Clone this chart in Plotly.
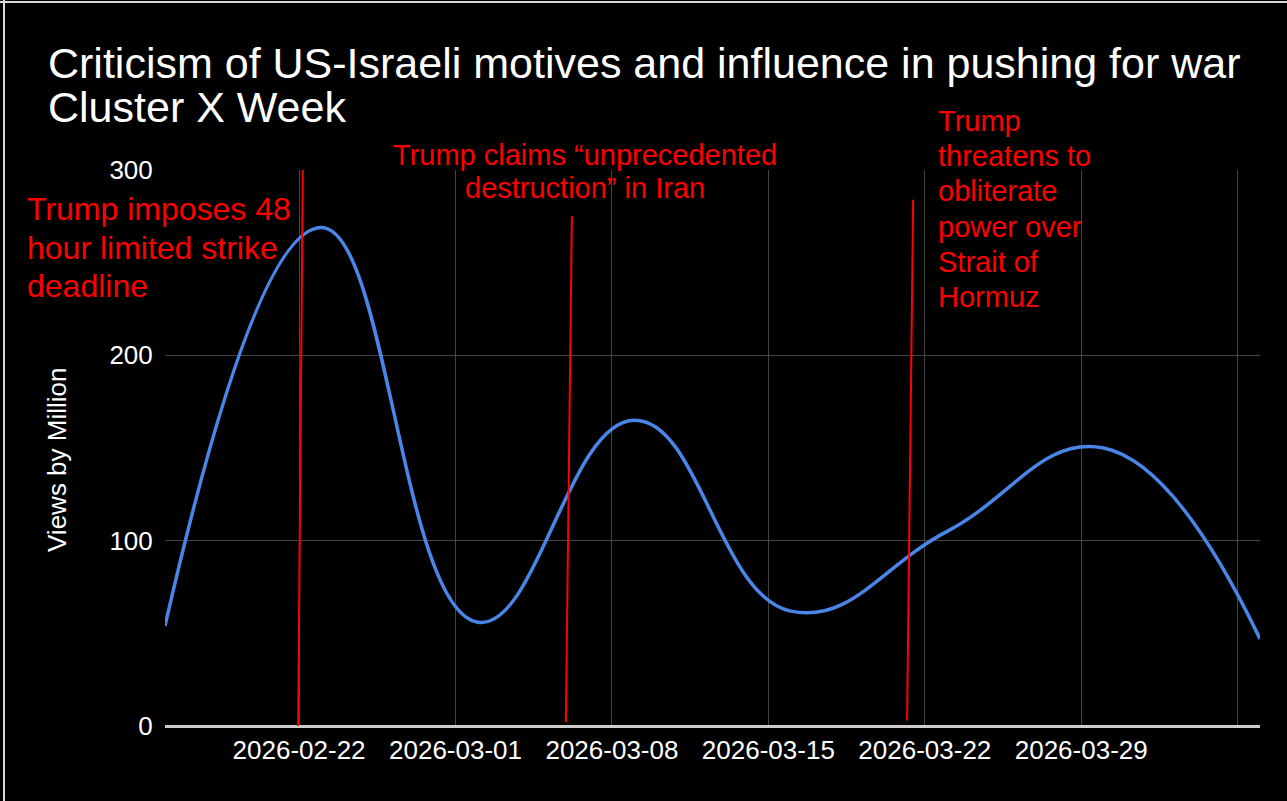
import plotly.graph_objects as go

# ---------------- data ----------------
weeks = ["2026-02-16", "2026-02-23", "2026-03-02", "2026-03-09",
         "2026-03-16", "2026-03-23", "2026-03-30", "2026-04-06"]
views = [54, 269, 56, 165, 62, 105, 150, 47]

tick_dates = ["2026-02-22", "2026-03-01", "2026-03-08", "2026-03-15",
              "2026-03-22", "2026-03-29", "2026-04-05"]
tick_labels = ["2026-02-22", "2026-03-01", "2026-03-08", "2026-03-15",
               "2026-03-22", "2026-03-29", ""]
y_ticks = [0, 100, 200, 300]

# event marker lines (hand-drawn, slightly slanted in the original)
event_top_dates = ["2026-02-22 04:00", "2026-03-06 05:00", "2026-03-21 11:30"]
event_bottom_dates = ["2026-02-21 23:00", "2026-03-05 22:30", "2026-03-21 05:00"]
event_tops = [300, 275, 284]
event_bottoms = [0, 2, 3]

title_lines = ["Criticism of US-Israeli motives and influence in pushing for war",
               "Cluster X Week"]
event1_lines = ["Trump imposes 48", "hour limited strike", "deadline"]
event2_lines = ["Trump claims \u201cunprecedented", "destruction\u201d in Iran"]
event3_lines = ["Trump", "threatens to", "obliterate", "power over",
                "Strait of", "Hormuz"]

# ---------------- layout geometry ----------------
W, H = 1287, 801
L, R, T, B = 165, 27, 170, 75
PW, PH = W - L - R, H - T - B
FONT = "Arial, Liberation Sans, sans-serif"


def px(x):
    return (x - L) / PW


def py(y):
    return (H - B - y) / PH


fig = go.Figure()
fig.add_trace(go.Scatter(
    x=weeks, y=views, mode="lines",
    line=dict(shape="spline", smoothing=1.25, color="#4a86e8", width=3.5),
    hoverinfo="skip"))

# event marker lines
for d_top, d_bot, top, bot in zip(event_top_dates, event_bottom_dates,
                                  event_tops, event_bottoms):
    fig.add_shape(type="line", xref="x", yref="y", x0=d_bot, x1=d_top,
                  y0=bot, y1=top,
                  line=dict(color="#ff0000", width=2), layer="above")

# frame lines (left and top)
fig.add_shape(type="line", xref="paper", yref="paper", x0=px(4), x1=px(4),
              y0=py(0), y1=py(H), line=dict(color="#d9d9d9", width=2))
fig.add_shape(type="line", xref="paper", yref="paper", x0=px(0), x1=px(W),
              y0=py(2), y1=py(2), line=dict(color="#d9d9d9", width=2))


def add_text_lines(lines, x, y_first, pitch, size, color, anchor):
    for i, t in enumerate(lines):
        fig.add_annotation(text=t, xref="paper", yref="paper",
                           x=px(x), y=py(y_first + i * pitch),
                           xanchor=anchor, yanchor="middle", showarrow=False,
                           font=dict(size=size, color=color, family=FONT))


add_text_lines(title_lines, 46, 63, 44, 43, "white", "left")
add_text_lines(event1_lines, 25, 209, 38.5, 32, "#ff0000", "left")
add_text_lines(event2_lines, 585, 155, 33, 29, "#ff0000", "center")
add_text_lines(event3_lines, 936, 121, 35.2, 29, "#ff0000", "left")

# y-axis title
fig.add_annotation(text="Views by Million", xref="paper", yref="paper",
                   x=px(57), y=py(460), textangle=-90, showarrow=False,
                   xanchor="center", yanchor="middle",
                   font=dict(size=26, color="white", family=FONT))

fig.update_layout(
    width=W, height=H,
    margin=dict(l=L, r=R, t=T, b=B, pad=0),
    paper_bgcolor="black", plot_bgcolor="black",
    showlegend=False,
    font=dict(family=FONT, color="white"),
    xaxis=dict(type="date", range=[weeks[0], weeks[-1]],
               tickvals=tick_dates, ticktext=tick_labels,
               showgrid=True, gridcolor="#444444", gridwidth=1,
               zeroline=False, showline=False,
               ticks="outside", ticklen=1, tickcolor="rgba(0,0,0,0)",
               tickfont=dict(size=26, color="white")),
    yaxis=dict(range=[0, 300], tickvals=y_ticks,
               showgrid=True, gridcolor="#444444", gridwidth=1,
               zeroline=True, zerolinecolor="#cccccc", zerolinewidth=2.5,
               showline=False,
               ticks="outside", ticklen=6, tickcolor="rgba(0,0,0,0)",
               tickfont=dict(size=26, color="white")),
)

fig.write_html("out.html",
               config={"displayModeBar": False},
               post_script="document.body.style.margin='0';"
                           "document.body.style.background='black';")
